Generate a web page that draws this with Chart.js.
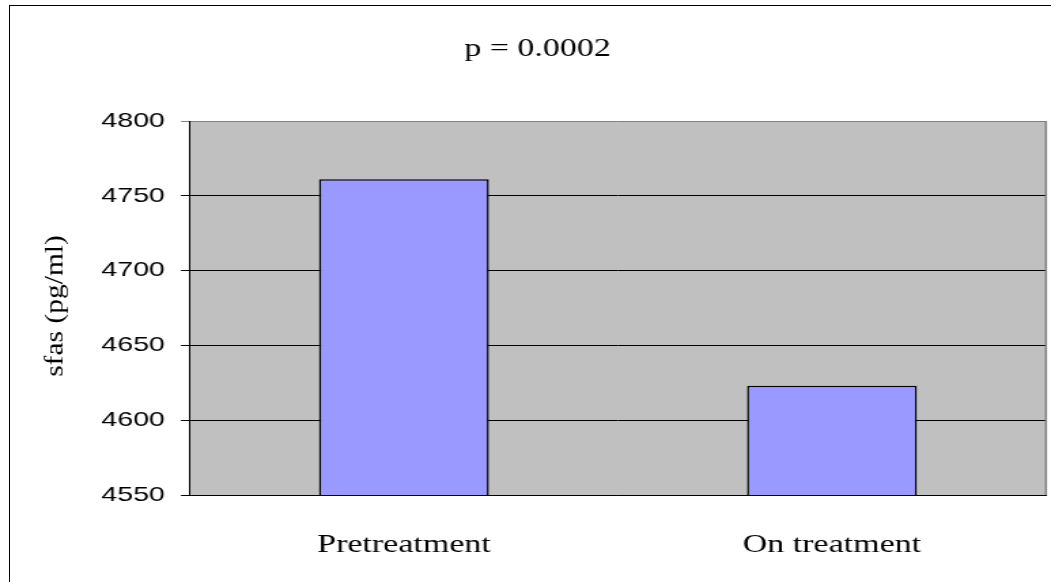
<!DOCTYPE html>
<html>
<head>
<meta charset="utf-8">
<script src="https://cdn.jsdelivr.net/npm/chart.js@4.4.1/dist/chart.umd.min.js"></script>
<style>
  html, body { margin: 0; padding: 0; background: #fff; overflow: hidden; width: 1051px; height: 582px; }
  #wrap { position: absolute; left: 0; top: 0; width: 773px; height: 582px; transform: scaleX(1.35963); transform-origin: 0 0; }
  #frame { position: absolute; left: 9px; top: 5px; width: 1200px; height: 800px; border: 1px solid #000; pointer-events: none; }
</style>
</head>
<body>
<div id="wrap"><canvas id="c" width="773" height="582"></canvas></div>
<div id="frame"></div>
<script>
const categories = ['Pretreatment', 'On treatment'];
const sfasValues = [4761, 4623];
const yTickValues = [4550, 4600, 4650, 4700, 4750, 4800];
const chartTitle = 'p = 0.0002';
const yAxisTitle = 'sfas (pg/ml)';

const SX = 1051 / 773; // horizontal stretch of the reference rendering

const plotBackground = {
  id: 'plotBackground',
  beforeDraw(chart) {
    const a = chart.chartArea, ctx = chart.ctx;
    ctx.save();
    ctx.fillStyle = '#C0C0C0';
    ctx.fillRect(a.left, a.top, a.right - a.left, a.bottom - a.top);
    ctx.restore();
  },
  afterDraw(chart) {
    const a = chart.chartArea, ctx = chart.ctx;
    ctx.save();
    ctx.strokeStyle = '#808080';
    ctx.lineWidth = 1.5;
    ctx.beginPath();
    ctx.moveTo(a.right, a.top);
    ctx.lineTo(a.right, a.bottom);
    ctx.stroke();
    ctx.restore();
    // rotated y-axis title, stretched along its reading direction like the reference
    ctx.save();
    ctx.translate(56 / SX, (a.top + a.bottom) / 2 - 2);
    ctx.scale(1 / SX, 1.18);
    ctx.rotate(-Math.PI / 2);
    ctx.font = '25px "Liberation Serif"';
    ctx.fillStyle = '#000';
    ctx.textAlign = 'center';
    ctx.textBaseline = 'middle';
    ctx.fillText(yAxisTitle, 0, 0);
    ctx.restore();
  }
};

new Chart(document.getElementById('c'), {
  type: 'bar',
  data: {
    labels: categories,
    datasets: [{
      data: sfasValues,
      backgroundColor: '#9999FF',
      borderColor: '#000',
      borderWidth: 1.5,
      barPercentage: 1,
      categoryPercentage: 0.397
    }]
  },
  options: {
    responsive: false,
    animation: false,
    devicePixelRatio: 1,
    layout: { padding: { left: 21.3, right: 3.7, top: 0, bottom: 0 } },
    plugins: {
      legend: { display: false },
      tooltip: { enabled: false },
      title: {
        display: true,
        text: chartTitle,
        color: '#000',
        font: { family: 'Liberation Serif', size: 25, weight: 'normal', lineHeight: 1.2 },
        padding: { top: 34.5, bottom: 56.5 }
      }
    },
    scales: {
      x: {
        grid: { display: false, drawTicks: false },
        border: { display: true, color: '#000', width: 1 },
        ticks: {
          color: '#000',
          padding: 35,
          font: { family: 'Liberation Serif', size: 25, lineHeight: 1.2 }
        },
        afterFit(scale) { scale.height = 87; }
      },
      y: {
        min: 4550,
        max: 4800,
        afterBuildTicks(scale) { scale.ticks = yTickValues.map(v => ({ value: v })); },
        afterFit(scale) { scale.width = 118.4; },
        grid: {
          color: ctx => (ctx.tick && ctx.tick.value === 4800) ? '#808080' : '#000',
          lineWidth: 1,
          drawTicks: true,
          tickLength: 6.6
        },
        border: { display: true, color: '#000', width: 1 },
        ticks: {
          color: '#000',
          padding: 11.8,
          font: { family: 'Liberation Sans', size: 21 },
          callback: v => String(v)
        }
      }
    }
  },
  plugins: [plotBackground]
});
</script>
</body>
</html>
